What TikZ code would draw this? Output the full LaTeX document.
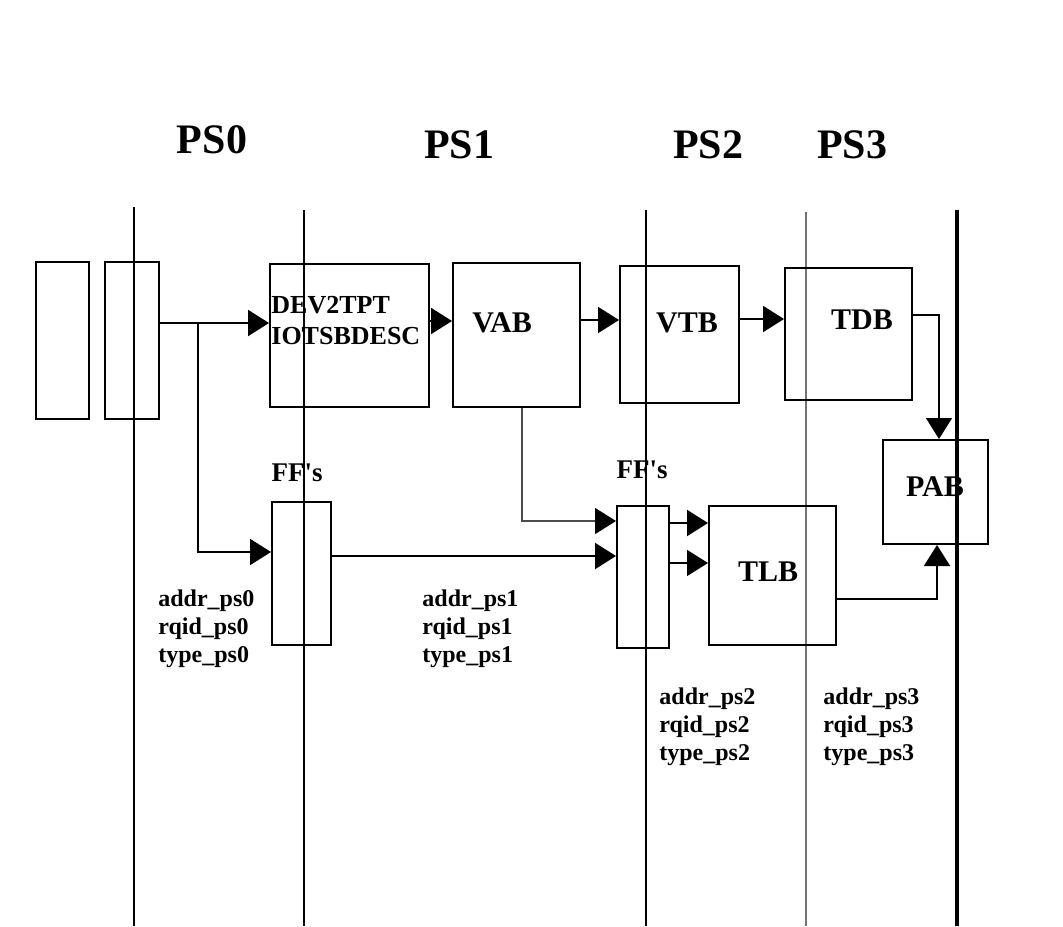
\documentclass[tikz,border=0pt]{standalone}
\usepackage{fontspec}
\setmainfont{Liberation Serif}
\usetikzlibrary{arrows.meta}
\begin{document}
\begin{tikzpicture}[x=0.5pt,y=-0.5pt,
  box/.style={draw, line width=1pt, inner sep=0pt},
  lbl/.style={font=\fontsize{15}{18}\selectfont\bfseries, inner sep=0pt},
  fflbl/.style={font=\fontsize{13.5}{16}\selectfont\bfseries, inner sep=0pt},
  ttl/.style={font=\fontsize{21}{25}\selectfont\bfseries, inner sep=0pt},
  sig/.style={font=\fontsize{12}{14}\selectfont\bfseries, align=left, anchor=north west, inner sep=0pt},
  arr/.style={-{Triangle[length=10.5pt,width=13pt,color=black]}, line width=1pt},
  stage/.style={line width=1pt},
  ]
\useasboundingbox[fill=white] (0,0) rectangle (1063,926);

% stage boundary lines
\draw[stage] (134,207) -- (134,926);
\draw[stage] (304,210) -- (304,926);
\draw[stage, line width=1.4pt] (646,210) -- (646,926);
\draw[stage, line width=0.7pt, black!55] (806,212) -- (806,926);
\draw[stage, line width=2pt] (957,210) -- (957,926);

% titles
\node[ttl] (ps0) at (212,140) {PS0};
\node[ttl] (ps1) at (459,145) {PS1};
\node[ttl] (ps2) at (708,145) {PS2};
\node[ttl] (ps3) at (852,145) {PS3};

% boxes
\node[box, line width=0.75pt, minimum width=26.5pt, minimum height=78.5pt] (A) at (62.5,340.5) {};
\node[box, line width=1.2pt, minimum width=27pt, minimum height=78.5pt] (B) at (132,340.5) {};
\node[box, minimum width=79.5pt, minimum height=71.5pt] (DEV) at (349.5,335.5) {};
\node[box, minimum width=63.5pt, minimum height=72pt] (VAB) at (516.5,335) {};
\node[box, minimum width=59.5pt, minimum height=68.5pt] (VTB) at (679.5,334.5) {};
\node[box, minimum width=63.5pt, minimum height=66pt] (TDB) at (848.5,334) {};
\node[box, minimum width=52.5pt, minimum height=52pt] (PAB) at (935.5,492) {};
\node[box, minimum width=29.5pt, minimum height=71.5pt] (FF1) at (301.5,573.5) {};
\node[box, minimum width=26pt, minimum height=71pt] (FF2) at (643,577) {};
\node[box, minimum width=63.5pt, minimum height=69.5pt] (TLB) at (772.5,575.5) {};

% box texts
\node[lbl, font=\fontsize{13}{15.5}\selectfont\bfseries, align=left, anchor=west] (devtxt) at (271,321) {DEV2TPT\\IOTSBDESC};
\node[lbl] (vabtxt) at (502,323) {VAB};
\node[lbl] (vtbtxt) at (687,323) {VTB};
\node[lbl] (tdbtxt) at (862,320) {TDB};
\node[lbl] (pabtxt) at (935,487) {PAB};
\node[lbl] (tlbtxt) at (768,572) {TLB};
\node[fflbl] (ff1txt) at (297,473) {FF\textquotesingle s};
\node[fflbl] (ff2txt) at (642,470) {FF\textquotesingle s};

% signal labels
\node[sig] (s0) at (158,589) {addr\_ps0\\rqid\_ps0\\type\_ps0};
\node[sig] (s1) at (422,589) {addr\_ps1\\rqid\_ps1\\type\_ps1};
\node[sig] (s2) at (659,687) {addr\_ps2\\rqid\_ps2\\type\_ps2};
\node[sig] (s3) at (823,687) {addr\_ps3\\rqid\_ps3\\type\_ps3};

% connectors
\coordinate (j0) at (198,323);
\coordinate (j1) at (198,552);
\draw[arr] (B.east |- j0) -- (DEV.west |- j0);
\draw[arr] (j0) -- (j1) -- (FF1.west |- j1);

\coordinate (h1) at (0,321);
\draw[arr] (DEV.east |- h1) -- (VAB.west |- h1);
\coordinate (h2) at (0,320);
\draw[arr] (VAB.east |- h2) -- (VTB.west |- h2);
\coordinate (h3) at (0,319);
\draw[arr] (VTB.east |- h3) -- (TDB.west |- h3);

\coordinate (k1) at (939,315);
\draw[arr, line width=0.6pt] (TDB.east |- k1) -- (k1) -- (PAB.north -| k1);
\coordinate (k2) at (937,599);
\draw[arr] (TLB.east |- k2) -- (k2) -- (PAB.south -| k2);

\coordinate (k3) at (522,521);
\draw[arr, line width=0.8pt, black!70] (VAB.south -| k3) -- (k3) -- (FF2.west |- k3);
\coordinate (k4) at (0,556);
\draw[arr] (FF1.east |- k4) -- (FF2.west |- k4);
\coordinate (k5) at (0,523);
\draw[arr] (FF2.east |- k5) -- (TLB.west |- k5);
\coordinate (k6) at (0,563);
\draw[arr, line width=0.7pt] (FF2.east |- k6) -- (TLB.west |- k6);
\end{tikzpicture}
\end{document}
